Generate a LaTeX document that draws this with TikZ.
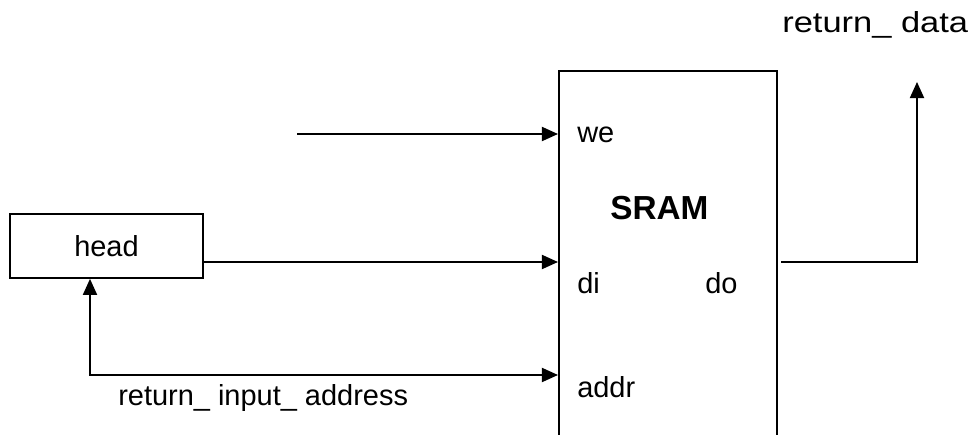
\documentclass[tikz,border=0pt]{standalone}
\usepackage{fontspec}
\setmainfont{Liberation Sans}
\newfontfamily\widesans[FakeStretch=1.19]{Liberation Sans}
\usetikzlibrary{arrows.meta}

\tikzset{
  wire/.style={line width=1.2pt},
  sig/.style={wire, -{Triangle[length=11.4pt,width=10pt]}},
  lbl/.style={anchor=base west, inner sep=0pt, font=\fontsize{20.6}{24}\selectfont},
}

\begin{document}
\begin{tikzpicture}[x=0.25mm, y=-0.25mm]
      \useasboundingbox (0,0) rectangle (971,435);
      \clip (0,0) rectangle (971,435);

      % memory block, runs off the bottom edge
      \node[draw, wire, anchor=north west, inner sep=0pt, minimum width=54.5mm, minimum height=100mm] (sram) at (558,70) {};
      \node[lbl, font=\fontsize{23.7}{28}\selectfont\bfseries] (title) at (610,219) {SRAM};
      \node[lbl] (weL) at (577,143) {we};
      \node[lbl] (diL) at (577,293) {di};
      \node[lbl] (doL) at (705,293) {do};
      \node[lbl] (addrL) at (577,397) {addr};

      % ports
      \coordinate (we) at (558,134);
      \coordinate (di) at (558,262);
      \coordinate (addr) at (558,375);
      \coordinate (do) at (781,262);
      \coordinate (weSrc) at (297,134);
      \coordinate (loop) at (90,375);
      \coordinate (rdata) at (917,82);

      \node[draw, wire, inner sep=0pt, minimum width=48.25mm, minimum height=16mm, font=\fontsize{20.6}{24}\selectfont] (head) at (106.5,246) {head};

      \draw[sig] (weSrc) -- (we);
      \draw[sig] (head.east |- di) -- (di);
      \draw[sig, {Triangle[length=11.4pt,width=10pt]}-{Triangle[length=11.4pt,width=10pt]}] (head.south -| loop) |- (addr);
      \draw[sig] (do) -| (rdata);

      \node[lbl] (retAddr) at (118,405) {return\_ input\_ address};
      \node[lbl, font=\fontsize{20.6}{24}\widesans] (retData) at (782,33) {return\_ data};
   \end{tikzpicture}
\end{document}
